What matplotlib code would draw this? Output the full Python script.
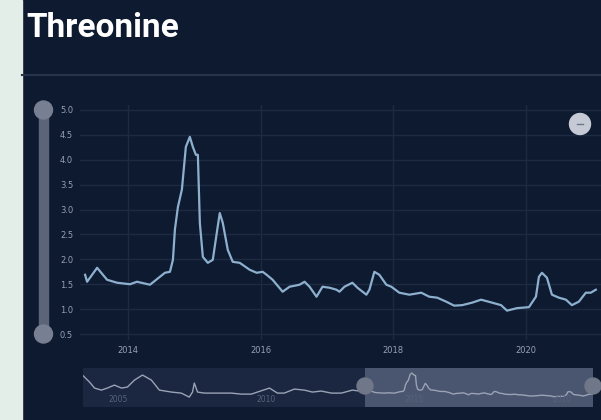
import numpy as np
import matplotlib.pyplot as plt
from matplotlib.patches import Rectangle, Circle

# main series (decimal year, value)
years = [2013.353, 2013.383, 2013.534, 2013.684, 2013.835, 2014.030, 2014.135, 2014.331,
         2014.481, 2014.556, 2014.632, 2014.677, 2014.707, 2014.752, 2014.812, 2014.872,
         2014.932, 2014.977, 2015.023, 2015.053, 2015.083, 2015.128, 2015.203, 2015.278,
         2015.338, 2015.383, 2015.429, 2015.504, 2015.579, 2015.684, 2015.835, 2015.940,
         2016.030, 2016.090, 2016.180, 2016.331, 2016.436, 2016.586, 2016.662, 2016.737,
         2016.842, 2016.932, 2017.038, 2017.143, 2017.188, 2017.263, 2017.383, 2017.459,
         2017.594, 2017.639, 2017.714, 2017.789, 2017.895, 2017.970, 2018.090, 2018.241,
         2018.421, 2018.541, 2018.662, 2018.797, 2018.917, 2019.038, 2019.188, 2019.323,
         2019.489, 2019.624, 2019.714, 2019.865, 2020.045, 2020.150, 2020.195, 2020.241,
         2020.316, 2020.391, 2020.496, 2020.602, 2020.692, 2020.797, 2020.902, 2020.977,
         2021.053]
values = [1.69, 1.55, 1.83, 1.59, 1.53, 1.50, 1.55, 1.49,
          1.65, 1.73, 1.75, 1.99, 2.60, 3.05, 3.40, 4.26,
          4.46, 4.26, 4.10, 4.10, 2.73, 2.05, 1.93, 1.99,
          2.53, 2.93, 2.73, 2.19, 1.95, 1.93, 1.79, 1.73,
          1.75, 1.69, 1.59, 1.35, 1.45, 1.49, 1.55, 1.45,
          1.25, 1.45, 1.43, 1.39, 1.35, 1.45, 1.53, 1.43,
          1.29, 1.39, 1.75, 1.69, 1.49, 1.45, 1.33, 1.29,
          1.33, 1.25, 1.23, 1.15, 1.07, 1.08, 1.13, 1.19,
          1.13, 1.08, 0.97, 1.02, 1.04, 1.25, 1.65, 1.73,
          1.63, 1.29, 1.23, 1.19, 1.08, 1.15, 1.33, 1.33,
          1.39]
# earlier history shown only in the navigator
early_years = [2003.80, 2004.04, 2004.21, 2004.44, 2004.64, 2004.88, 2005.12, 2005.32,
               2005.56, 2005.83, 2006.13, 2006.40, 2006.81, 2007.14, 2007.41, 2007.52,
               2007.58, 2007.69, 2007.92, 2008.36, 2008.83, 2009.17, 2009.51, 2009.71,
               2010.12, 2010.39, 2010.62, 2010.96, 2011.30, 2011.57, 2011.87, 2012.21,
               2012.55, 2012.92]
early_values = [4.16, 3.13, 2.24, 1.94, 2.24, 2.68, 2.24, 2.39,
                3.42, 4.16, 3.42, 1.94, 1.65, 1.50, 0.91, 1.65,
                2.98, 1.65, 1.50, 1.50, 1.50, 1.35, 1.35, 1.65,
                2.24, 1.50, 1.50, 2.09, 1.94, 1.65, 1.80, 1.50,
                1.50, 1.94]

x_ticks = [2014, 2016, 2018, 2020]
y_ticks = [0.5, 1.0, 1.5, 2.0, 2.5, 3.0, 3.5, 4.0, 4.5, 5.0]
nav_labels = [2005, 2010, 2015, 2020]

bg = '#0e1a2f'
W, H = 601, 420

fig = plt.figure(figsize=(6.01, 4.2), dpi=100)
fig.patch.set_facecolor(bg)

def rect(l, t, r, b):
    return [l / W, 1 - b / H, (r - l) / W, (b - t) / H]

# overlay for decorations in pixel coords
over = fig.add_axes([0, 0, 1, 1], zorder=0)
over.set_xlim(0, W)
over.set_ylim(H, 0)
over.axis('off')
over.add_patch(Rectangle((0, 0), 22, H, color='#e4eee9', zorder=1))
over.plot([22, W], [75, 75], color='#26344c', lw=1.5)
over.text(26, 37, 'Threonine', color='white', fontsize=24, fontweight='bold',
          family='Roboto', va='baseline', ha='left')

# main chart
ax = fig.add_axes(rect(80, 105, 601, 340), zorder=2)
ax.set_facecolor('none')
ax.plot(years, values, color='#8db0cf', lw=1.6, solid_joinstyle='round')
ax.set_xlim(2013.276, 2021.131)
ax.set_ylim(0.38, 5.10)
ax.set_yticks(y_ticks)
ax.set_yticklabels([f'{v:.1f}' for v in y_ticks])
ax.set_xticks(x_ticks)
ax.set_xticklabels([str(v) for v in x_ticks])
ax.tick_params(length=0, colors='#97a0b2', labelsize=6)
ax.tick_params(axis='y', pad=5)
ax.tick_params(axis='x', pad=4)
ax.grid(True, color='#1d2a42', lw=1)
for s in ax.spines.values():
    s.set_visible(False)

# vertical range slider and minus button
top = fig.add_axes([0, 0, 1, 1], zorder=3)
top.set_xlim(0, W)
top.set_ylim(H, 0)
top.axis('off')
top.add_patch(Rectangle((39, 110), 9, 224, color='#5b6478'))
top.add_patch(Circle((43.5, 110), 9, color='#777f92'))
top.add_patch(Circle((43.5, 334), 9, color='#777f92'))
top.add_patch(Circle((580, 124), 10.5, color='#c6cad4'))
top.plot([577, 583], [124, 124], color='#6d7588', lw=1)

# navigator
nav = fig.add_axes(rect(83, 368, 593, 407), zorder=2)
nav.set_facecolor('#1b2740')
nav.plot(early_years + years, early_values + values, color='#9aa3b5', lw=1)
nav.axvspan(years[0], years[-1], color='#5a6680', alpha=0.75, lw=0)
nav.set_xlim(2003.82, 2021.05)
nav.set_ylim(-0.55, 5.2)
for yr in nav_labels:
    nav.text(yr, 0.6, str(yr), color='#56627a', fontsize=5.5, ha='center', va='center')
nav.set_xticks([])
nav.set_yticks([])
for s in nav.spines.values():
    s.set_visible(False)
top.add_patch(Circle((365, 386), 8, color='#6f7789'))
top.add_patch(Circle((593, 386), 8, color='#6f7789'))

fig.savefig('out.png', dpi=100, facecolor=bg)
